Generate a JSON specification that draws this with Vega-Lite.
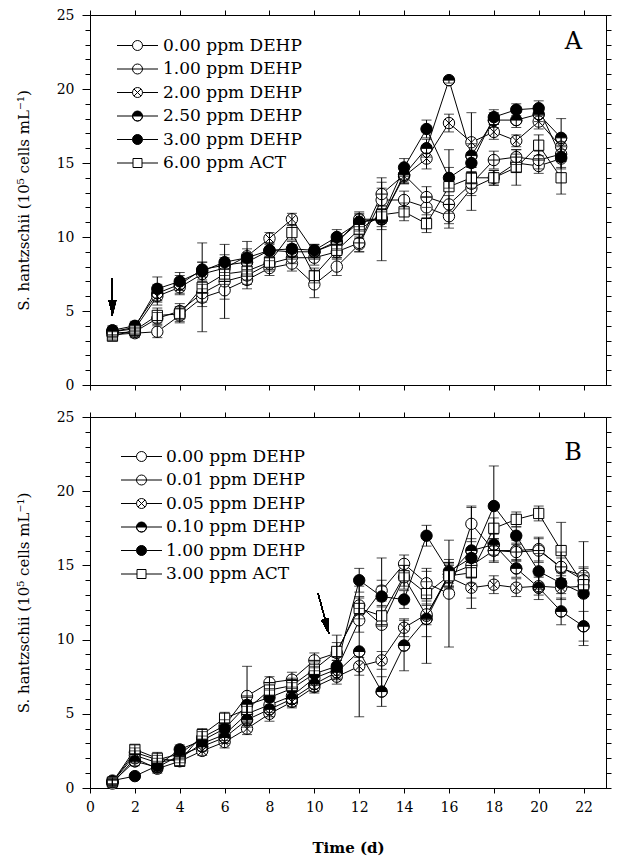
{
"$schema":"https://vega.github.io/schema/vega-lite/v6.json",
"background":"white",
"padding":{"left":15,"top":7,"right":5,"bottom":5},
"config":{
 "font":"DejaVu Serif",
 "view":{"stroke":"black","strokeWidth":1},
 "axis":{"grid":false,"domainColor":"black","tickColor":"black","labelColor":"black","titleColor":"black","labelFont":"DejaVu Serif","titleFont":"DejaVu Serif","labelFontSize":14,"titleFontSize":15,"titleFontWeight":"normal","domainWidth":1,"tickWidth":1,"labelFlush":false,"labelOverlap":false}
},
"datasets":{
"A":[
{"s":"0.00 ppm DEHP","d":1,"v":3.4,"e":0.3},{"s":"0.00 ppm DEHP","d":2,"v":3.5,"e":0.3},{"s":"0.00 ppm DEHP","d":3,"v":3.6,"e":0.4},{"s":"0.00 ppm DEHP","d":4,"v":4.7,"e":0.5},{"s":"0.00 ppm DEHP","d":5,"v":5.9,"e":0.6},{"s":"0.00 ppm DEHP","d":6,"v":6.4,"e":0.6},{"s":"0.00 ppm DEHP","d":7,"v":7.1,"e":0.6},{"s":"0.00 ppm DEHP","d":8,"v":7.9,"e":0.5},{"s":"0.00 ppm DEHP","d":9,"v":8.2,"e":0.5},{"s":"0.00 ppm DEHP","d":10,"v":6.8,"e":0.9},{"s":"0.00 ppm DEHP","d":11,"v":8.0,"e":0.6},{"s":"0.00 ppm DEHP","d":12,"v":9.5,"e":0.5},{"s":"0.00 ppm DEHP","d":13,"v":12.5,"e":0.8},{"s":"0.00 ppm DEHP","d":14,"v":12.5,"e":0.6},{"s":"0.00 ppm DEHP","d":15,"v":12.0,"e":0.7},{"s":"0.00 ppm DEHP","d":16,"v":11.4,"e":0.8},{"s":"0.00 ppm DEHP","d":17,"v":13.3,"e":1.5},{"s":"0.00 ppm DEHP","d":18,"v":14.0,"e":0.5},{"s":"0.00 ppm DEHP","d":19,"v":15.0,"e":0.6},{"s":"0.00 ppm DEHP","d":20,"v":14.8,"e":0.5},{"s":"0.00 ppm DEHP","d":21,"v":15.3,"e":0.6},
{"s":"1.00 ppm DEHP","d":1,"v":3.5,"e":0.3},{"s":"1.00 ppm DEHP","d":2,"v":3.6,"e":0.3},{"s":"1.00 ppm DEHP","d":3,"v":4.5,"e":0.4},{"s":"1.00 ppm DEHP","d":4,"v":5.0,"e":0.5},{"s":"1.00 ppm DEHP","d":5,"v":6.2,"e":0.6},{"s":"1.00 ppm DEHP","d":6,"v":7.0,"e":2.5},{"s":"1.00 ppm DEHP","d":7,"v":7.4,"e":0.6},{"s":"1.00 ppm DEHP","d":8,"v":8.2,"e":0.5},{"s":"1.00 ppm DEHP","d":9,"v":8.6,"e":0.4},{"s":"1.00 ppm DEHP","d":10,"v":8.6,"e":0.5},{"s":"1.00 ppm DEHP","d":11,"v":9.0,"e":0.5},{"s":"1.00 ppm DEHP","d":12,"v":9.6,"e":0.6},{"s":"1.00 ppm DEHP","d":13,"v":12.9,"e":0.8},{"s":"1.00 ppm DEHP","d":14,"v":14.2,"e":0.5},{"s":"1.00 ppm DEHP","d":15,"v":12.7,"e":0.7},{"s":"1.00 ppm DEHP","d":16,"v":12.2,"e":0.6},{"s":"1.00 ppm DEHP","d":17,"v":13.6,"e":0.8},{"s":"1.00 ppm DEHP","d":18,"v":15.2,"e":0.6},{"s":"1.00 ppm DEHP","d":19,"v":15.4,"e":0.5},{"s":"1.00 ppm DEHP","d":20,"v":15.2,"e":0.6},{"s":"1.00 ppm DEHP","d":21,"v":15.6,"e":0.5},
{"s":"2.00 ppm DEHP","d":1,"v":3.6,"e":0.3},{"s":"2.00 ppm DEHP","d":2,"v":3.8,"e":0.3},{"s":"2.00 ppm DEHP","d":3,"v":6.0,"e":0.6},{"s":"2.00 ppm DEHP","d":4,"v":6.6,"e":0.5},{"s":"2.00 ppm DEHP","d":5,"v":7.5,"e":0.5},{"s":"2.00 ppm DEHP","d":6,"v":7.9,"e":0.5},{"s":"2.00 ppm DEHP","d":7,"v":8.7,"e":0.5},{"s":"2.00 ppm DEHP","d":8,"v":9.9,"e":0.4},{"s":"2.00 ppm DEHP","d":9,"v":11.2,"e":0.4},{"s":"2.00 ppm DEHP","d":10,"v":9.0,"e":0.5},{"s":"2.00 ppm DEHP","d":11,"v":9.6,"e":0.5},{"s":"2.00 ppm DEHP","d":12,"v":11.2,"e":0.5},{"s":"2.00 ppm DEHP","d":13,"v":11.2,"e":0.7},{"s":"2.00 ppm DEHP","d":14,"v":14.1,"e":0.5},{"s":"2.00 ppm DEHP","d":15,"v":15.3,"e":0.7},{"s":"2.00 ppm DEHP","d":16,"v":17.7,"e":0.6},{"s":"2.00 ppm DEHP","d":17,"v":16.4,"e":2.0},{"s":"2.00 ppm DEHP","d":18,"v":17.1,"e":0.5},{"s":"2.00 ppm DEHP","d":19,"v":16.5,"e":0.4},{"s":"2.00 ppm DEHP","d":20,"v":17.8,"e":0.5},{"s":"2.00 ppm DEHP","d":21,"v":16.1,"e":0.8},
{"s":"2.50 ppm DEHP","d":1,"v":3.7,"e":0.3},{"s":"2.50 ppm DEHP","d":2,"v":4.0,"e":0.3},{"s":"2.50 ppm DEHP","d":3,"v":6.2,"e":0.6},{"s":"2.50 ppm DEHP","d":4,"v":6.8,"e":0.6},{"s":"2.50 ppm DEHP","d":5,"v":7.8,"e":0.5},{"s":"2.50 ppm DEHP","d":6,"v":8.1,"e":0.5},{"s":"2.50 ppm DEHP","d":7,"v":8.3,"e":0.5},{"s":"2.50 ppm DEHP","d":8,"v":9.1,"e":0.5},{"s":"2.50 ppm DEHP","d":9,"v":9.0,"e":0.5},{"s":"2.50 ppm DEHP","d":10,"v":9.0,"e":0.4},{"s":"2.50 ppm DEHP","d":11,"v":9.7,"e":0.5},{"s":"2.50 ppm DEHP","d":12,"v":11.0,"e":0.5},{"s":"2.50 ppm DEHP","d":13,"v":11.2,"e":2.8},{"s":"2.50 ppm DEHP","d":14,"v":14.2,"e":0.6},{"s":"2.50 ppm DEHP","d":15,"v":16.0,"e":0.6},{"s":"2.50 ppm DEHP","d":16,"v":20.6,"e":0.2},{"s":"2.50 ppm DEHP","d":17,"v":15.5,"e":0.8},{"s":"2.50 ppm DEHP","d":18,"v":17.9,"e":0.5},{"s":"2.50 ppm DEHP","d":19,"v":17.9,"e":0.5},{"s":"2.50 ppm DEHP","d":20,"v":18.3,"e":0.5},{"s":"2.50 ppm DEHP","d":21,"v":16.7,"e":1.3},
{"s":"3.00 ppm DEHP","d":1,"v":3.6,"e":0.3},{"s":"3.00 ppm DEHP","d":2,"v":3.9,"e":0.3},{"s":"3.00 ppm DEHP","d":3,"v":6.5,"e":0.8},{"s":"3.00 ppm DEHP","d":4,"v":7.0,"e":0.6},{"s":"3.00 ppm DEHP","d":5,"v":7.7,"e":0.6},{"s":"3.00 ppm DEHP","d":6,"v":8.3,"e":0.5},{"s":"3.00 ppm DEHP","d":7,"v":8.6,"e":1.1},{"s":"3.00 ppm DEHP","d":8,"v":9.1,"e":0.5},{"s":"3.00 ppm DEHP","d":9,"v":9.2,"e":0.5},{"s":"3.00 ppm DEHP","d":10,"v":9.1,"e":0.4},{"s":"3.00 ppm DEHP","d":11,"v":10.0,"e":0.5},{"s":"3.00 ppm DEHP","d":12,"v":11.0,"e":0.6},{"s":"3.00 ppm DEHP","d":13,"v":11.3,"e":0.6},{"s":"3.00 ppm DEHP","d":14,"v":14.7,"e":0.6},{"s":"3.00 ppm DEHP","d":15,"v":17.3,"e":0.6},{"s":"3.00 ppm DEHP","d":16,"v":14.0,"e":0.7},{"s":"3.00 ppm DEHP","d":17,"v":15.0,"e":0.7},{"s":"3.00 ppm DEHP","d":18,"v":18.1,"e":0.5},{"s":"3.00 ppm DEHP","d":19,"v":18.6,"e":0.4},{"s":"3.00 ppm DEHP","d":20,"v":18.7,"e":0.5},{"s":"3.00 ppm DEHP","d":21,"v":15.4,"e":0.8},
{"s":"6.00 ppm ACT","d":1,"v":3.3,"e":0.3},{"s":"6.00 ppm ACT","d":2,"v":3.7,"e":0.3},{"s":"6.00 ppm ACT","d":3,"v":4.7,"e":0.5},{"s":"6.00 ppm ACT","d":4,"v":4.8,"e":0.5},{"s":"6.00 ppm ACT","d":5,"v":6.6,"e":3.0},{"s":"6.00 ppm ACT","d":6,"v":7.5,"e":0.7},{"s":"6.00 ppm ACT","d":7,"v":7.7,"e":0.6},{"s":"6.00 ppm ACT","d":8,"v":8.3,"e":0.5},{"s":"6.00 ppm ACT","d":9,"v":10.3,"e":0.5},{"s":"6.00 ppm ACT","d":10,"v":7.4,"e":0.5},{"s":"6.00 ppm ACT","d":11,"v":9.1,"e":0.5},{"s":"6.00 ppm ACT","d":12,"v":10.5,"e":0.6},{"s":"6.00 ppm ACT","d":13,"v":11.5,"e":0.6},{"s":"6.00 ppm ACT","d":14,"v":11.7,"e":0.6},{"s":"6.00 ppm ACT","d":15,"v":10.9,"e":0.6},{"s":"6.00 ppm ACT","d":16,"v":13.4,"e":2.5},{"s":"6.00 ppm ACT","d":17,"v":14.0,"e":0.7},{"s":"6.00 ppm ACT","d":18,"v":14.0,"e":0.5},{"s":"6.00 ppm ACT","d":19,"v":14.7,"e":1.2},{"s":"6.00 ppm ACT","d":20,"v":16.2,"e":0.7},{"s":"6.00 ppm ACT","d":21,"v":14.0,"e":1.1}
],
"B":[
{"s":"0.00 ppm DEHP","d":1,"v":0.4,"e":0.2},{"s":"0.00 ppm DEHP","d":2,"v":2.2,"e":0.3},{"s":"0.00 ppm DEHP","d":3,"v":1.7,"e":0.3},{"s":"0.00 ppm DEHP","d":4,"v":2.0,"e":0.3},{"s":"0.00 ppm DEHP","d":5,"v":3.0,"e":0.3},{"s":"0.00 ppm DEHP","d":6,"v":3.6,"e":0.4},{"s":"0.00 ppm DEHP","d":7,"v":5.0,"e":0.5},{"s":"0.00 ppm DEHP","d":8,"v":5.6,"e":0.5},{"s":"0.00 ppm DEHP","d":9,"v":6.2,"e":0.5},{"s":"0.00 ppm DEHP","d":10,"v":7.4,"e":0.5},{"s":"0.00 ppm DEHP","d":11,"v":8.0,"e":0.6},{"s":"0.00 ppm DEHP","d":12,"v":11.3,"e":0.8},{"s":"0.00 ppm DEHP","d":13,"v":13.3,"e":0.7},{"s":"0.00 ppm DEHP","d":14,"v":15.1,"e":0.6},{"s":"0.00 ppm DEHP","d":15,"v":13.8,"e":0.8},{"s":"0.00 ppm DEHP","d":16,"v":13.1,"e":3.6},{"s":"0.00 ppm DEHP","d":17,"v":17.8,"e":1.2},{"s":"0.00 ppm DEHP","d":18,"v":16.0,"e":0.8},{"s":"0.00 ppm DEHP","d":19,"v":16.0,"e":0.7},{"s":"0.00 ppm DEHP","d":20,"v":16.1,"e":0.8},{"s":"0.00 ppm DEHP","d":21,"v":14.8,"e":0.7},{"s":"0.00 ppm DEHP","d":22,"v":14.3,"e":0.6},
{"s":"0.01 ppm DEHP","d":1,"v":0.4,"e":0.2},{"s":"0.01 ppm DEHP","d":2,"v":2.4,"e":0.3},{"s":"0.01 ppm DEHP","d":3,"v":1.9,"e":0.3},{"s":"0.01 ppm DEHP","d":4,"v":2.3,"e":0.3},{"s":"0.01 ppm DEHP","d":5,"v":3.4,"e":0.4},{"s":"0.01 ppm DEHP","d":6,"v":4.2,"e":0.4},{"s":"0.01 ppm DEHP","d":7,"v":6.2,"e":2.0},{"s":"0.01 ppm DEHP","d":8,"v":7.1,"e":0.4},{"s":"0.01 ppm DEHP","d":9,"v":7.3,"e":0.5},{"s":"0.01 ppm DEHP","d":10,"v":8.6,"e":0.5},{"s":"0.01 ppm DEHP","d":11,"v":9.1,"e":1.2},{"s":"0.01 ppm DEHP","d":12,"v":12.3,"e":0.6},{"s":"0.01 ppm DEHP","d":13,"v":11.0,"e":4.5},{"s":"0.01 ppm DEHP","d":14,"v":14.2,"e":0.8},{"s":"0.01 ppm DEHP","d":15,"v":11.6,"e":3.2},{"s":"0.01 ppm DEHP","d":16,"v":14.4,"e":0.8},{"s":"0.01 ppm DEHP","d":17,"v":15.0,"e":0.8},{"s":"0.01 ppm DEHP","d":18,"v":16.0,"e":0.7},{"s":"0.01 ppm DEHP","d":19,"v":15.9,"e":0.6},{"s":"0.01 ppm DEHP","d":20,"v":16.0,"e":0.8},{"s":"0.01 ppm DEHP","d":21,"v":14.9,"e":1.0},{"s":"0.01 ppm DEHP","d":22,"v":14.0,"e":0.8},
{"s":"0.05 ppm DEHP","d":1,"v":0.3,"e":0.2},{"s":"0.05 ppm DEHP","d":2,"v":2.0,"e":0.3},{"s":"0.05 ppm DEHP","d":3,"v":1.3,"e":0.3},{"s":"0.05 ppm DEHP","d":4,"v":1.8,"e":0.3},{"s":"0.05 ppm DEHP","d":5,"v":2.5,"e":0.3},{"s":"0.05 ppm DEHP","d":6,"v":3.1,"e":0.4},{"s":"0.05 ppm DEHP","d":7,"v":4.0,"e":0.4},{"s":"0.05 ppm DEHP","d":8,"v":5.0,"e":0.5},{"s":"0.05 ppm DEHP","d":9,"v":5.8,"e":0.4},{"s":"0.05 ppm DEHP","d":10,"v":6.8,"e":0.4},{"s":"0.05 ppm DEHP","d":11,"v":7.5,"e":0.5},{"s":"0.05 ppm DEHP","d":12,"v":8.2,"e":0.6},{"s":"0.05 ppm DEHP","d":13,"v":8.6,"e":0.6},{"s":"0.05 ppm DEHP","d":14,"v":10.8,"e":0.6},{"s":"0.05 ppm DEHP","d":15,"v":11.7,"e":0.7},{"s":"0.05 ppm DEHP","d":16,"v":14.2,"e":0.8},{"s":"0.05 ppm DEHP","d":17,"v":13.5,"e":0.7},{"s":"0.05 ppm DEHP","d":18,"v":13.7,"e":0.6},{"s":"0.05 ppm DEHP","d":19,"v":13.5,"e":0.6},{"s":"0.05 ppm DEHP","d":20,"v":13.6,"e":0.6},{"s":"0.05 ppm DEHP","d":21,"v":13.5,"e":0.8},{"s":"0.05 ppm DEHP","d":22,"v":13.6,"e":0.7},
{"s":"0.10 ppm DEHP","d":1,"v":0.4,"e":0.2},{"s":"0.10 ppm DEHP","d":2,"v":1.8,"e":0.3},{"s":"0.10 ppm DEHP","d":3,"v":1.4,"e":0.3},{"s":"0.10 ppm DEHP","d":4,"v":2.2,"e":0.3},{"s":"0.10 ppm DEHP","d":5,"v":2.8,"e":0.3},{"s":"0.10 ppm DEHP","d":6,"v":3.4,"e":0.4},{"s":"0.10 ppm DEHP","d":7,"v":4.6,"e":0.5},{"s":"0.10 ppm DEHP","d":8,"v":5.3,"e":0.5},{"s":"0.10 ppm DEHP","d":9,"v":6.0,"e":0.5},{"s":"0.10 ppm DEHP","d":10,"v":7.0,"e":0.5},{"s":"0.10 ppm DEHP","d":11,"v":7.8,"e":0.5},{"s":"0.10 ppm DEHP","d":12,"v":9.2,"e":4.4},{"s":"0.10 ppm DEHP","d":13,"v":6.5,"e":1.0},{"s":"0.10 ppm DEHP","d":14,"v":9.6,"e":1.7},{"s":"0.10 ppm DEHP","d":15,"v":11.4,"e":1.2},{"s":"0.10 ppm DEHP","d":16,"v":14.4,"e":0.8},{"s":"0.10 ppm DEHP","d":17,"v":16.0,"e":0.8},{"s":"0.10 ppm DEHP","d":18,"v":16.4,"e":0.7},{"s":"0.10 ppm DEHP","d":19,"v":14.8,"e":0.6},{"s":"0.10 ppm DEHP","d":20,"v":13.5,"e":0.8},{"s":"0.10 ppm DEHP","d":21,"v":11.9,"e":0.9},{"s":"0.10 ppm DEHP","d":22,"v":10.9,"e":1.0},
{"s":"1.00 ppm DEHP","d":1,"v":0.5,"e":0.2},{"s":"1.00 ppm DEHP","d":2,"v":0.8,"e":0.2},{"s":"1.00 ppm DEHP","d":3,"v":1.5,"e":0.3},{"s":"1.00 ppm DEHP","d":4,"v":2.6,"e":0.3},{"s":"1.00 ppm DEHP","d":5,"v":3.2,"e":0.3},{"s":"1.00 ppm DEHP","d":6,"v":4.0,"e":0.4},{"s":"1.00 ppm DEHP","d":7,"v":5.6,"e":0.5},{"s":"1.00 ppm DEHP","d":8,"v":6.1,"e":0.5},{"s":"1.00 ppm DEHP","d":9,"v":6.7,"e":0.4},{"s":"1.00 ppm DEHP","d":10,"v":7.7,"e":0.5},{"s":"1.00 ppm DEHP","d":11,"v":8.2,"e":0.6},{"s":"1.00 ppm DEHP","d":12,"v":14.0,"e":0.8},{"s":"1.00 ppm DEHP","d":13,"v":12.9,"e":0.7},{"s":"1.00 ppm DEHP","d":14,"v":12.7,"e":0.6},{"s":"1.00 ppm DEHP","d":15,"v":17.0,"e":0.7},{"s":"1.00 ppm DEHP","d":16,"v":14.6,"e":0.8},{"s":"1.00 ppm DEHP","d":17,"v":15.5,"e":3.4},{"s":"1.00 ppm DEHP","d":18,"v":19.0,"e":2.7},{"s":"1.00 ppm DEHP","d":19,"v":17.0,"e":0.6},{"s":"1.00 ppm DEHP","d":20,"v":14.6,"e":1.2},{"s":"1.00 ppm DEHP","d":21,"v":13.8,"e":0.7},{"s":"1.00 ppm DEHP","d":22,"v":13.1,"e":3.5},
{"s":"3.00 ppm ACT","d":1,"v":0.4,"e":0.2},{"s":"3.00 ppm ACT","d":2,"v":2.6,"e":0.3},{"s":"3.00 ppm ACT","d":3,"v":2.0,"e":0.4},{"s":"3.00 ppm ACT","d":4,"v":1.8,"e":0.3},{"s":"3.00 ppm ACT","d":5,"v":3.6,"e":0.4},{"s":"3.00 ppm ACT","d":6,"v":4.7,"e":0.4},{"s":"3.00 ppm ACT","d":7,"v":5.3,"e":0.6},{"s":"3.00 ppm ACT","d":8,"v":6.6,"e":0.5},{"s":"3.00 ppm ACT","d":9,"v":6.9,"e":0.5},{"s":"3.00 ppm ACT","d":10,"v":8.0,"e":0.5},{"s":"3.00 ppm ACT","d":11,"v":9.2,"e":0.6},{"s":"3.00 ppm ACT","d":12,"v":12.1,"e":0.7},{"s":"3.00 ppm ACT","d":13,"v":11.6,"e":0.7},{"s":"3.00 ppm ACT","d":14,"v":14.3,"e":0.7},{"s":"3.00 ppm ACT","d":15,"v":13.1,"e":0.8},{"s":"3.00 ppm ACT","d":16,"v":14.3,"e":0.8},{"s":"3.00 ppm ACT","d":17,"v":14.5,"e":0.7},{"s":"3.00 ppm ACT","d":18,"v":17.5,"e":0.7},{"s":"3.00 ppm ACT","d":19,"v":18.1,"e":0.5},{"s":"3.00 ppm ACT","d":20,"v":18.5,"e":0.5},{"s":"3.00 ppm ACT","d":21,"v":16.0,"e":1.9},{"s":"3.00 ppm ACT","d":22,"v":13.7,"e":0.8}
]
},
"spacing":32,
"bounds":"flush",
"resolve":{"scale":{"shape":"independent","fill":"independent","stroke":"independent"},"legend":{"shape":"independent","fill":"independent","stroke":"independent"}},
"vconcat":[
{
 "width":516,"height":370,
 "data":{"name":"A"},
 "title":{"text":"A","anchor":"end","frame":"group","dx":-24,"dy":46,"fontSize":24,"font":"DejaVu Serif","fontWeight":"normal","color":"black","offset":0},
 "resolve":{"axis":{"x":"independent","y":"independent"},"scale":{"shape":"independent","fill":"independent","stroke":"independent"}},
 "layer":[
  {"mark":{"type":"line","color":"black","strokeWidth":1},
   "encoding":{
    "x":{"field":"d","type":"quantitative","scale":{"domain":[0,23],"nice":false,"zero":false},"axis":{"orient":"bottom","values":[0,2,4,6,8,10,12,14,16,18,20,22],"labels":false,"title":null,"tickSize":5}},
    "y":{"field":"v","type":"quantitative","scale":{"domain":[0,25],"nice":false},"axis":{"orient":"left","values":[0,1,2,3,4,5,6,7,8,9,10,11,12,13,14,15,16,17,18,19,20,21,22,23,24,25],"labelExpr":"datum.value % 5 === 0 ? datum.label : ''","tickSize":{"condition":{"test":"datum.value % 5 === 0","value":8},"value":5},"labelPadding":8,"title":"S. hantzschii (10⁵ cells mL⁻¹)","titlePadding":25}},
    "detail":{"field":"s"}}},
  {"mark":{"type":"point","shape":"circle","filled":true,"color":"white","size":130,"opacity":1},
   "encoding":{
    "x":{"field":"d","type":"quantitative","axis":{"orient":"top","values":[0,2,4,6,8,10,12,14,16,18,20,22],"labels":false,"title":null,"tickSize":5}},
    "y":{"field":"v","type":"quantitative","axis":{"orient":"right","values":[0,1,2,3,4,5,6,7,8,9,10,11,12,13,14,15,16,17,18,19,20,21,22,23,24,25],"labels":false,"title":null,"tickSize":5}}}},
  {"mark":{"type":"point","filled":true,"stroke":"black","strokeWidth":1,"size":130,"opacity":1},
   "encoding":{
    "x":{"field":"d","type":"quantitative","axis":null},
    "y":{"field":"v","type":"quantitative","axis":null},
    "shape":{"field":"s","type":"nominal","scale":{"domain":["0.00 ppm DEHP","1.00 ppm DEHP","2.00 ppm DEHP","2.50 ppm DEHP","3.00 ppm DEHP","6.00 ppm ACT"],"range":["M-1,0A1,1 0 1,1 1,0A1,1 0 1,1 -1,0Z","M-1,0A1,1 0 1,1 1,0A1,1 0 1,1 -1,0ZM-1,0L1,0","M-1,0A1,1 0 1,1 1,0A1,1 0 1,1 -1,0ZM-0.71,-0.71L0.71,0.71M-0.71,0.71L0.71,-0.71","M-1,0A1,1 0 0,1 1,0A1,1 0 0,1 -1,0ZM-1,0A1,1 0 0,0 1,0Z","M-1,0A1,1 0 1,1 1,0A1,1 0 1,1 -1,0Z","M-0.9,-0.9H0.9V0.9H-0.9Z"]},"legend":null},
    "fill":{"field":"s","type":"nominal","scale":{"domain":["0.00 ppm DEHP","1.00 ppm DEHP","2.00 ppm DEHP","2.50 ppm DEHP","3.00 ppm DEHP","6.00 ppm ACT"],"range":["white","white","white","black","black","white"]},"legend":null}}},
  {"mark":{"type":"errorbar","color":"black","thickness":1,"ticks":{"size":10,"color":"black"}},
   "encoding":{
    "x":{"field":"d","type":"quantitative","axis":null},
    "y":{"field":"v","type":"quantitative","axis":null},
    "yError":{"field":"e"}}},
  {"mark":{"type":"rule","color":"black","strokeWidth":1},
   "encoding":{"x":{"datum":1,"type":"quantitative","axis":null},"y":{"datum":7.2,"type":"quantitative","axis":null},"y2":{"datum":4.7}}},
  {"mark":{"type":"point","shape":"M0,0L-0.5,-2L0.5,-2Z","filled":true,"color":"black","size":225,"opacity":1},
   "encoding":{"x":{"datum":1,"type":"quantitative","axis":null},"y":{"datum":4.7,"type":"quantitative","axis":null}}},
  {"transform":[{"filter":"false"}],
   "mark":{"type":"point","filled":true,"strokeWidth":1,"size":100,"opacity":1},
   "encoding":{
    "x":{"field":"d","type":"quantitative","axis":null},
    "y":{"field":"v","type":"quantitative","axis":null},
    "shape":{"field":"s","type":"nominal","scale":{"domain":["0.00 ppm DEHP","1.00 ppm DEHP","2.00 ppm DEHP","2.50 ppm DEHP","3.00 ppm DEHP","6.00 ppm ACT"],"range":["M-4.1,0H-1M1,0H4.1M-1,0A1,1 0 1,1 1,0A1,1 0 1,1 -1,0Z","M-4.1,0H-1M1,0H4.1M-1,0A1,1 0 1,1 1,0A1,1 0 1,1 -1,0ZM-1,0L1,0","M-4.1,0H-1M1,0H4.1M-1,0A1,1 0 1,1 1,0A1,1 0 1,1 -1,0ZM-0.71,-0.71L0.71,0.71M-0.71,0.71L0.71,-0.71","M-4.1,0H-1M1,0H4.1M-1,0A1,1 0 0,1 1,0A1,1 0 0,1 -1,0ZM-1,0A1,1 0 0,0 1,0Z","M-4.1,0H-1M1,0H4.1M-1,0A1,1 0 1,1 1,0A1,1 0 1,1 -1,0Z","M-4.1,0H-0.9M0.9,0H4.1M-0.9,-0.9H0.9V0.9H-0.9Z"]},
     "legend":{"title":null,"orient":"none","legendX":39,"legendY":22,"padding":0,"labelFont":"DejaVu Serif","labelFontSize":17,"labelColor":"black","labelOffset":17,"symbolSize":100,"rowPadding":5.5,"symbolStrokeWidth":1}},
    "fill":{"field":"s","type":"nominal","scale":{"domain":["0.00 ppm DEHP","1.00 ppm DEHP","2.00 ppm DEHP","2.50 ppm DEHP","3.00 ppm DEHP","6.00 ppm ACT"],"range":["white","white","white","black","black","white"]},
     "legend":{"title":null,"orient":"none","legendX":39,"legendY":22,"padding":0,"labelFont":"DejaVu Serif","labelFontSize":17,"labelColor":"black","labelOffset":17,"symbolSize":100,"rowPadding":5.5,"symbolStrokeWidth":1}},
    "stroke":{"field":"s","type":"nominal","scale":{"domain":["0.00 ppm DEHP","1.00 ppm DEHP","2.00 ppm DEHP","2.50 ppm DEHP","3.00 ppm DEHP","6.00 ppm ACT"],"range":["black","black","black","black","black","black"]},
     "legend":{"title":null,"orient":"none","legendX":39,"legendY":22,"padding":0,"labelFont":"DejaVu Serif","labelFontSize":17,"labelColor":"black","labelOffset":17,"symbolSize":100,"rowPadding":5.5,"symbolStrokeWidth":1}}}}
 ]
},
{
 "width":516,"height":371,
 "data":{"name":"B"},
 "title":{"text":"B","anchor":"end","frame":"group","dx":-24,"dy":55,"fontSize":24,"font":"DejaVu Serif","fontWeight":"normal","color":"black","offset":0},
 "resolve":{"axis":{"x":"independent","y":"independent"},"scale":{"shape":"independent","fill":"independent","stroke":"independent"}},
 "layer":[
  {"mark":{"type":"line","color":"black","strokeWidth":1},
   "encoding":{
    "x":{"field":"d","type":"quantitative","scale":{"domain":[0,23],"nice":false,"zero":false},"axis":{"orient":"bottom","values":[0,2,4,6,8,10,12,14,16,18,20,22],"tickSize":5,"labelPadding":7,"title":"Time (d)","titleFontWeight":"bold","titlePadding":26}},
    "y":{"field":"v","type":"quantitative","scale":{"domain":[0,25],"nice":false},"axis":{"orient":"left","values":[0,1,2,3,4,5,6,7,8,9,10,11,12,13,14,15,16,17,18,19,20,21,22,23,24,25],"labelExpr":"datum.value % 5 === 0 ? datum.label : ''","tickSize":{"condition":{"test":"datum.value % 5 === 0","value":8},"value":5},"labelPadding":8,"title":"S. hantzschii (10⁵ cells mL⁻¹)","titlePadding":25}},
    "detail":{"field":"s"}}},
  {"mark":{"type":"point","shape":"circle","filled":true,"color":"white","size":130,"opacity":1},
   "encoding":{
    "x":{"field":"d","type":"quantitative","axis":{"orient":"top","values":[0,2,4,6,8,10,12,14,16,18,20,22],"labels":false,"title":null,"tickSize":5}},
    "y":{"field":"v","type":"quantitative","axis":{"orient":"right","values":[0,1,2,3,4,5,6,7,8,9,10,11,12,13,14,15,16,17,18,19,20,21,22,23,24,25],"labels":false,"title":null,"tickSize":5}}}},
  {"mark":{"type":"point","filled":true,"stroke":"black","strokeWidth":1,"size":130,"opacity":1},
   "encoding":{
    "x":{"field":"d","type":"quantitative","axis":null},
    "y":{"field":"v","type":"quantitative","axis":null},
    "shape":{"field":"s","type":"nominal","scale":{"domain":["0.00 ppm DEHP","0.01 ppm DEHP","0.05 ppm DEHP","0.10 ppm DEHP","1.00 ppm DEHP","3.00 ppm ACT"],"range":["M-1,0A1,1 0 1,1 1,0A1,1 0 1,1 -1,0Z","M-1,0A1,1 0 1,1 1,0A1,1 0 1,1 -1,0ZM-1,0L1,0","M-1,0A1,1 0 1,1 1,0A1,1 0 1,1 -1,0ZM-0.71,-0.71L0.71,0.71M-0.71,0.71L0.71,-0.71","M-1,0A1,1 0 0,1 1,0A1,1 0 0,1 -1,0ZM-1,0A1,1 0 0,0 1,0Z","M-1,0A1,1 0 1,1 1,0A1,1 0 1,1 -1,0Z","M-0.9,-0.9H0.9V0.9H-0.9Z"]},"legend":null},
    "fill":{"field":"s","type":"nominal","scale":{"domain":["0.00 ppm DEHP","0.01 ppm DEHP","0.05 ppm DEHP","0.10 ppm DEHP","1.00 ppm DEHP","3.00 ppm ACT"],"range":["white","white","white","black","black","white"]},"legend":null}}},
  {"mark":{"type":"errorbar","color":"black","thickness":1,"ticks":{"size":10,"color":"black"}},
   "encoding":{
    "x":{"field":"d","type":"quantitative","axis":null},
    "y":{"field":"v","type":"quantitative","axis":null},
    "yError":{"field":"e"}}},
  {"mark":{"type":"rule","color":"black","strokeWidth":1},
   "encoding":{"x":{"datum":10.17,"type":"quantitative","axis":null},"x2":{"datum":10.65},"y":{"datum":13.1,"type":"quantitative","axis":null},"y2":{"datum":10.4}}},
  {"mark":{"type":"point","shape":"M0,0L-0.5,-2L0.5,-2Z","filled":true,"color":"black","size":225,"opacity":1,"angle":345},
   "encoding":{"x":{"datum":10.65,"type":"quantitative","axis":null},"y":{"datum":10.4,"type":"quantitative","axis":null}}},
  {"transform":[{"filter":"false"}],
   "mark":{"type":"point","filled":true,"strokeWidth":1,"size":100,"opacity":1},
   "encoding":{
    "x":{"field":"d","type":"quantitative","axis":null},
    "y":{"field":"v","type":"quantitative","axis":null},
    "shape":{"field":"s","type":"nominal","scale":{"domain":["0.00 ppm DEHP","0.01 ppm DEHP","0.05 ppm DEHP","0.10 ppm DEHP","1.00 ppm DEHP","3.00 ppm ACT"],"range":["M-4.1,0H-1M1,0H4.1M-1,0A1,1 0 1,1 1,0A1,1 0 1,1 -1,0Z","M-4.1,0H-1M1,0H4.1M-1,0A1,1 0 1,1 1,0A1,1 0 1,1 -1,0ZM-1,0L1,0","M-4.1,0H-1M1,0H4.1M-1,0A1,1 0 1,1 1,0A1,1 0 1,1 -1,0ZM-0.71,-0.71L0.71,0.71M-0.71,0.71L0.71,-0.71","M-4.1,0H-1M1,0H4.1M-1,0A1,1 0 0,1 1,0A1,1 0 0,1 -1,0ZM-1,0A1,1 0 0,0 1,0Z","M-4.1,0H-1M1,0H4.1M-1,0A1,1 0 1,1 1,0A1,1 0 1,1 -1,0Z","M-4.1,0H-0.9M0.9,0H4.1M-0.9,-0.9H0.9V0.9H-0.9Z"]},
     "legend":{"title":null,"orient":"none","legendX":43,"legendY":31,"padding":0,"labelFont":"DejaVu Serif","labelFontSize":17,"labelColor":"black","labelOffset":16,"symbolSize":100,"rowPadding":5.5,"symbolStrokeWidth":1}},
    "fill":{"field":"s","type":"nominal","scale":{"domain":["0.00 ppm DEHP","0.01 ppm DEHP","0.05 ppm DEHP","0.10 ppm DEHP","1.00 ppm DEHP","3.00 ppm ACT"],"range":["white","white","white","black","black","white"]},
     "legend":{"title":null,"orient":"none","legendX":43,"legendY":31,"padding":0,"labelFont":"DejaVu Serif","labelFontSize":17,"labelColor":"black","labelOffset":16,"symbolSize":100,"rowPadding":5.5,"symbolStrokeWidth":1}},
    "stroke":{"field":"s","type":"nominal","scale":{"domain":["0.00 ppm DEHP","0.01 ppm DEHP","0.05 ppm DEHP","0.10 ppm DEHP","1.00 ppm DEHP","3.00 ppm ACT"],"range":["black","black","black","black","black","black"]},
     "legend":{"title":null,"orient":"none","legendX":43,"legendY":31,"padding":0,"labelFont":"DejaVu Serif","labelFontSize":17,"labelColor":"black","labelOffset":16,"symbolSize":100,"rowPadding":5.5,"symbolStrokeWidth":1}}}}
 ]
}
]
}
